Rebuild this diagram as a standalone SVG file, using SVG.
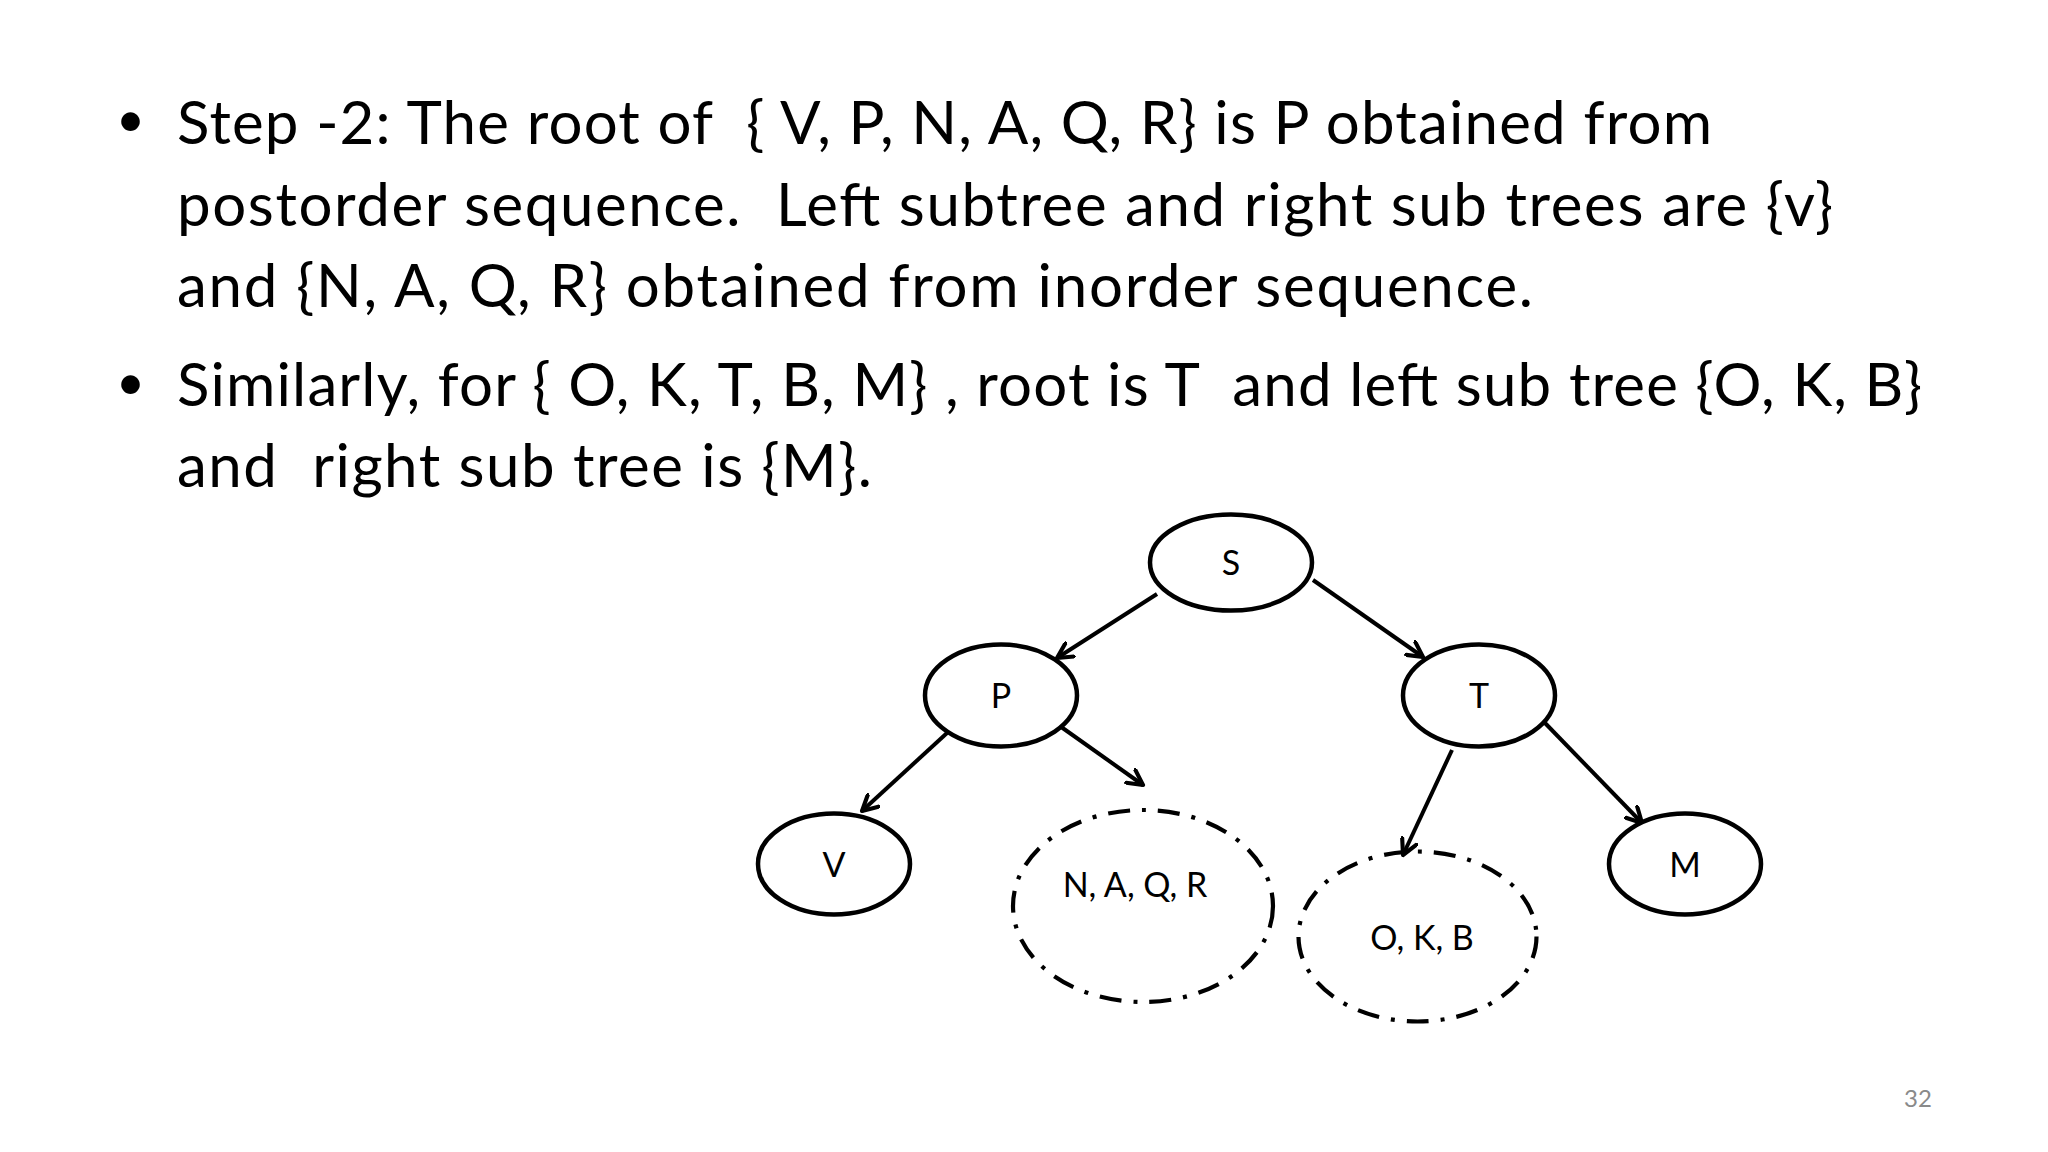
<svg xmlns="http://www.w3.org/2000/svg" width="2048" height="1152" viewBox="0 0 2048 1152">
  <style>
    .body { font-family: Lato, "Open Sans", "Liberation Sans", sans-serif; font-size: 60px; fill: #000; white-space: pre; }
    .bul { font-family: Lato, "Open Sans", "Liberation Sans", sans-serif; font-size: 50px; fill: #000; }
    .lbl { font-family: Lato, "Open Sans", "Liberation Sans", sans-serif; font-size: 34px; fill: #000; text-anchor: middle; white-space: pre; }
    .node { fill: #fff; stroke: #000; stroke-width: 4.5; }
    .set { fill: none; stroke: #000; stroke-width: 4.2; stroke-dasharray: 22 12 4 12; }
    .edge { stroke: #000; stroke-width: 4; fill: none; marker-end: url(#arr); }
    .pg { font-family: Lato, "Open Sans", "Liberation Sans", sans-serif; font-size: 24px; fill: #8a8a8a; }
  </style>
  <defs>
    <marker id="arr" viewBox="0 0 12 12" refX="10.5" refY="6" markerWidth="19" markerHeight="19" markerUnits="userSpaceOnUse" orient="auto">
      <path d="M1,1 L10.5,6 L1,11" fill="none" stroke="#000" stroke-width="2.6" stroke-linecap="round" stroke-linejoin="round"/>
    </marker>
  </defs>
  <rect width="2048" height="1152" fill="#fff"/>

  <g id="text">
    <text class="bul" x="116" y="137">•</text>
    <text class="body" x="177" y="144" textLength="1535">Step -2: The root of  { V, P, N, A, Q, R} is P obtained from</text>
    <text class="body" x="177" y="226" textLength="1656">postorder sequence.  Left subtree and right sub trees are {v}</text>
    <text class="body" x="177" y="307" textLength="1356">and {N, A, Q, R} obtained from inorder sequence.</text>
    <text class="bul" x="116" y="400">•</text>
    <text class="body" x="177" y="406" textLength="1745">Similarly, for { O, K, T, B, M} , root is T  and left sub tree {O, K, B}</text>
    <text class="body" x="177" y="487" textLength="695">and  right sub tree is {M}.</text>
  </g>

  <g id="connectors">
    <line class="edge" x1="1157" y1="594" x2="1057" y2="658"/>
    <line class="edge" x1="1313" y1="580" x2="1423" y2="657"/>
    <line class="edge" x1="947" y1="733" x2="862" y2="811"/>
    <line class="edge" x1="1057" y1="724" x2="1143" y2="785"/>
    <line class="edge" x1="1452" y1="750" x2="1403" y2="855"/>
    <line class="edge" x1="1545" y1="723" x2="1642" y2="823"/>
  </g>

  <g id="node-S">
    <ellipse class="node" cx="1231" cy="562.5" rx="81" ry="48"/>
    <text class="lbl" x="1231" y="575">S</text>
  </g>
  <g id="node-P">
    <ellipse class="node" cx="1001" cy="695.5" rx="76" ry="51"/>
    <text class="lbl" x="1001" y="708">P</text>
  </g>
  <g id="node-T">
    <ellipse class="node" cx="1479" cy="695.5" rx="76" ry="51"/>
    <text class="lbl" x="1479" y="708">T</text>
  </g>
  <g id="node-V">
    <ellipse class="node" cx="834" cy="864" rx="76" ry="50.5"/>
    <text class="lbl" x="834" y="877">V</text>
  </g>
  <g id="node-M">
    <ellipse class="node" cx="1685" cy="864" rx="76" ry="50.5"/>
    <text class="lbl" x="1685" y="877">M</text>
  </g>
  <g id="node-NAQR">
    <ellipse class="set" cx="1143" cy="906" rx="130" ry="96"/>
    <text class="lbl" x="1135" y="897">N, A, Q, R</text>
  </g>
  <g id="node-OKB">
    <ellipse class="set" cx="1417.5" cy="936.5" rx="119" ry="85"/>
    <text class="lbl" x="1422" y="950">O, K, B</text>
  </g>

  <text class="pg" x="1904" y="1107">32</text>
</svg>
